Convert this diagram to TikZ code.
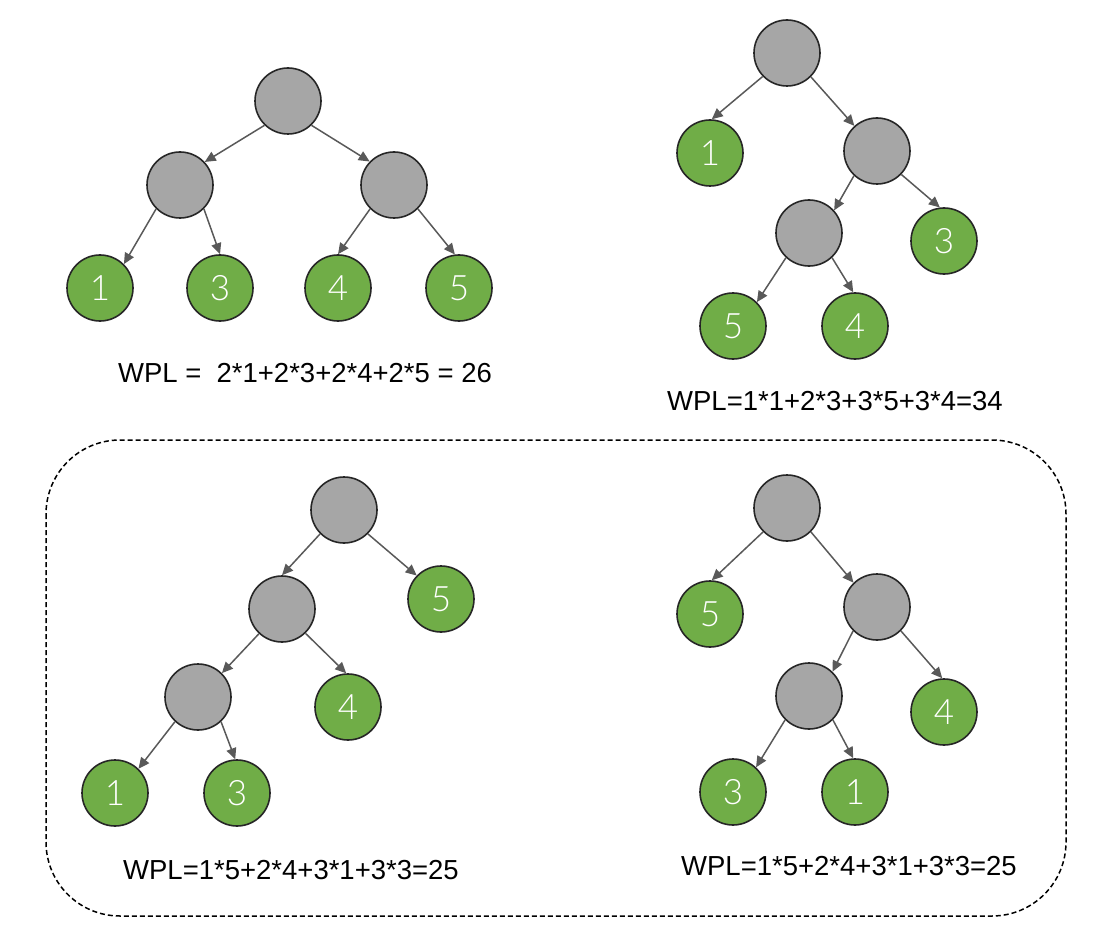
\documentclass[tikz,border=0pt]{standalone}
\usepackage{fontspec}
\setmainfont{Liberation Sans}
\newfontfamily\nodefont{Lato Light}
\usetikzlibrary{arrows.meta}
\definecolor{gfill}{HTML}{A6A6A6}
\definecolor{lfill}{HTML}{70AD47}
\definecolor{bord}{HTML}{262626}
\definecolor{edgec}{HTML}{595959}
\tikzset{
  inner/.style={circle,draw=bord,line width=1.6pt,fill=gfill,minimum size=66pt,inner sep=0pt},
  leaf/.style={circle,draw=bord,line width=1.6pt,fill=lfill,minimum size=66pt,inner sep=0pt,text=white,font=\nodefont\fontsize{35}{35}\selectfont},
  edge/.style={draw=edgec,line width=1.5pt,-{Triangle[length=11pt,width=10pt]}},
  wpl/.style={font=\fontsize{27.5}{27.5}\selectfont,inner sep=0pt},
  frame/.style={draw=black,line width=1.5pt,dash pattern=on 5pt off 3pt,rounded corners=74pt}
}
\begin{document}
\begin{tikzpicture}[x=1pt,y=-1pt]
\useasboundingbox (0,0) rectangle (1106,944);
% tree 1
\node[inner] (a0) at (288,101) {};
\node[inner] (aL) at (180,185) {};
\node[inner] (aR) at (394,185) {};
\node[leaf] (a1) at (100,288) {1};
\node[leaf] (a3) at (220,288) {3};
\node[leaf] (a4) at (338,288) {4};
\node[leaf] (a5) at (459,288) {5};
\draw[edge] (a0.226) -- (aL.43);
\draw[edge] (a0.314) -- (aR.136);
\draw[edge] (aL.225) -- (a1.45);
\draw[edge] (aL.315) -- (a3.90);
\draw[edge] (aR.225) -- (a4.90);
\draw[edge] (aR.315) -- (a5.97);
\node[wpl] (aw) at (305,373) {WPL =\ \ 2*1+2*3+2*4+2*5 = 26};
% tree 2
\node[inner] (b0) at (787,53) {};
\node[leaf] (b1) at (710,153) {1};
\node[inner] (bn) at (877,151) {};
\node[inner] (bm) at (809,233) {};
\node[leaf] (b3) at (944,241) {3};
\node[leaf] (b5) at (733,326) {5};
\node[leaf] (b4) at (855,326) {4};
\draw[edge] (b0.224) -- (b1.87);
\draw[edge] (b0.315) -- (bn.132);
\draw[edge] (bn.227) -- (bm.42);
\draw[edge] (bn.316) -- (b3.97);
\draw[edge] (bm.227) -- (b5.45);
\draw[edge] (bm.313) -- (b4.93);
\node[wpl] (bw) at (835,401) {WPL=1*1+2*3+3*5+3*4=34};
% frame
\draw[frame] (46,440) rectangle (1066,916);
% tree 3
\node[inner] (c0) at (344,510) {};
\node[inner] (cA) at (282,609) {};
\node[leaf] (c5) at (441,599) {5};
\node[inner] (cB) at (198,697) {};
\node[leaf] (c4) at (348,707) {4};
\node[leaf] (c1) at (115,793) {1};
\node[leaf] (c3) at (237,793) {3};
\draw[edge] (c0.225) -- (cA.90);
\draw[edge] (c0.315) -- (c5.136);
\draw[edge] (cA.227) -- (cB.45);
\draw[edge] (cA.314) -- (c4.93);
\draw[edge] (cB.227) -- (c1.46);
\draw[edge] (cB.313) -- (c3.93);
\node[wpl] (cw) at (291,870) {WPL=1*5+2*4+3*1+3*3=25};
% tree 4
\node[inner] (d0) at (787,508) {};
\node[leaf] (d5) at (710,614) {5};
\node[inner] (dn) at (877,607) {};
\node[inner] (dm) at (809,696) {};
\node[leaf] (d4) at (944,712) {4};
\node[leaf] (d3) at (733,792) {3};
\node[leaf] (d1) at (855,792) {1};
\draw[edge] (d0.225) -- (d5.87);
\draw[edge] (d0.315) -- (dn.134);
\draw[edge] (dn.225) -- (dm.46);
\draw[edge] (dn.315) -- (d4.93);
\draw[edge] (dm.225) -- (d3.47);
\draw[edge] (dm.315) -- (d1.93);
\node[wpl] (dw) at (849,866) {WPL=1*5+2*4+3*1+3*3=25};
\end{tikzpicture}
\end{document}
